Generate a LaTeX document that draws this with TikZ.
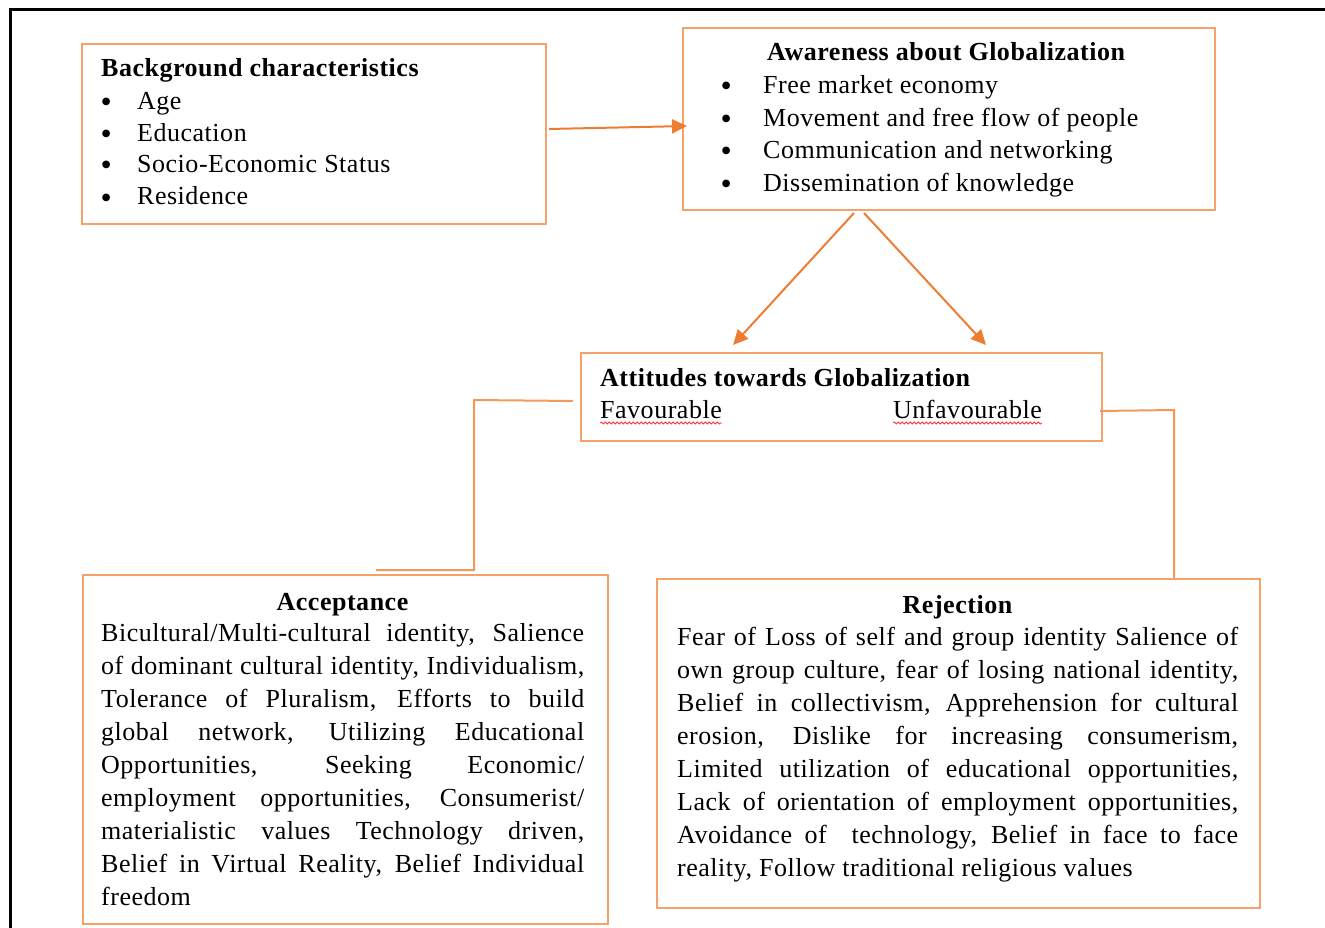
\documentclass[tikz,border=0pt]{standalone}
\usepackage{fontspec}
\setmainfont{Liberation Serif}[LetterSpace=2]
\usetikzlibrary{arrows.meta,decorations.pathmorphing}
\definecolor{boxor}{HTML}{F4A26B}
\definecolor{elbowor}{HTML}{F19A5A}
\definecolor{arrowor}{HTML}{ED7D31}
\newcommand\jline[2]{\hbox to #1{#2}}
\begin{document}
\begin{tikzpicture}[x=1pt,y=-1pt,
  box/.style={draw=boxor,line width=2pt,inner sep=0pt,anchor=north west},
  txt/.style={inner sep=0pt,anchor=base west,font=\fontsize{26}{33}\selectfont},
  bul/.style={inner sep=0pt,anchor=base west,font=\fontsize{32}{33}\selectfont},
  ttl/.style={inner sep=0pt,anchor=base west,font=\fontsize{26}{33}\selectfont\bfseries},
  arr/.style={draw=arrowor,line width=2pt,-{Triangle[length=15pt,width=14pt]}},
  elbow/.style={draw=elbowor,line width=2pt},
  squig/.style={draw=red!80,line width=0.8pt,decorate,decoration={snake,amplitude=1pt,segment length=4pt}}]
\useasboundingbox (0,0) rectangle (1325,928);
% outer frame (cropped)
\draw[line width=3pt] (10,928) -- (10,10) -- (1325,10);
% boxes
\node[box,minimum width=464pt,minimum height=180pt] (b1) at (81,43) {};
\node[box,minimum width=532pt,minimum height=182pt] (b2) at (682,27) {};
\node[box,minimum width=521pt,minimum height=88pt] (b3) at (580,352) {};
\node[box,minimum width=525pt,minimum height=349pt] (b4) at (82,574) {};
\node[box,minimum width=603pt,minimum height=329pt] (b5) at (656,578) {};
% box 1 text
\node[ttl] (t1) at (101,77) {Background characteristics};
\node[bul] (t1b1) at (100.5,113) {•};
\node[txt] (t1i1) at (137,110) {Age};
\node[bul] (t1b2) at (100.5,145) {•};
\node[txt] (t1i2) at (137,142) {Education};
\node[bul] (t1b3) at (100.5,176) {•};
\node[txt] (t1i3) at (137,173) {Socio-Economic Status};
\node[bul] (t1b4) at (100.5,208) {•};
\node[txt] (t1i4) at (137,205) {Residence};
% box 2 text
\node[ttl] (t2) at (767,61) {Awareness about Globalization};
\node[bul] (t2b1) at (720.5,97) {•};
\node[txt] (t2i1) at (763,94) {Free market economy};
\node[bul] (t2b2) at (720.5,129.5) {•};
\node[txt] (t2i2) at (763,126.5) {Movement and free flow of people};
\node[bul] (t2b3) at (720.5,162) {•};
\node[txt] (t2i3) at (763,159) {Communication and networking};
\node[bul] (t2b4) at (720.5,194.5) {•};
\node[txt] (t2i4) at (763,191.5) {Dissemination of knowledge};
% box 3 text
\node[ttl] (t3) at (600,386) {Attitudes towards Globalization};
\node[txt] (fav) at (600,418) {Favourable};
\node[txt] (unfav) at (893,418) {Unfavourable};
\draw[squig] ([yshift=-5pt]fav.base west) -- ([yshift=-5pt]fav.base east);
\draw[squig] ([yshift=-5pt]unfav.base west) -- ([yshift=-5pt]unfav.base east);
% box 4 text
\node[ttl,anchor=base] (t4) at (342.5,610) {Acceptance};
\node[txt] (a1) at (101,641) {\jline{483pt}{Bicultural/Multi-cultural identity, Salience}};
\node[txt] (a2) at (101,674) {\jline{483pt}{of dominant cultural identity, Individualism,}};
\node[txt] (a3) at (101,707) {\jline{483pt}{Tolerance of Pluralism, Efforts to build}};
\node[txt] (a4) at (101,740) {\jline{483pt}{global network, Utilizing Educational}};
\node[txt] (a5) at (101,773) {\jline{483pt}{Opportunities, Seeking Economic/}};
\node[txt] (a6) at (101,806) {\jline{483pt}{employment opportunities, Consumerist/}};
\node[txt] (a7) at (101,839) {\jline{483pt}{materialistic values Technology driven,}};
\node[txt] (a8) at (101,872) {\jline{483pt}{Belief in Virtual Reality, Belief Individual}};
\node[txt] (a9) at (101,905) {freedom};
% box 5 text
\node[ttl,anchor=base] (t5) at (957.5,613) {Rejection};
\node[txt] (r1) at (677,645) {\jline{561pt}{Fear of Loss of self and group identity Salience of}};
\node[txt] (r2) at (677,678.1) {\jline{561pt}{own group culture, fear of losing national identity,}};
\node[txt] (r3) at (677,711.2) {\jline{561pt}{Belief in collectivism, Apprehension for cultural}};
\node[txt] (r4) at (677,744.3) {\jline{561pt}{erosion, Dislike for increasing consumerism,}};
\node[txt] (r5) at (677,777.4) {\jline{561pt}{Limited utilization of educational opportunities,}};
\node[txt] (r6) at (677,810.5) {\jline{561pt}{Lack of orientation of employment opportunities,}};
\node[txt] (r7) at (677,843.6) {\jline{561pt}{Avoidance of\ \ technology, Belief in face to face}};
\node[txt] (r8) at (677,876.7) {reality, Follow traditional religious values};
% arrows
\draw[arr] ([xshift=2pt,yshift=5pt]b1.east) -- ([xshift=5pt,yshift=-7pt]b2.west);
\draw[arr] ([xshift=-95pt,yshift=-2pt]b2.south) -- ([xshift=-108.5pt,yshift=7pt]b3.north);
\draw[arr] ([xshift=-85pt,yshift=-2pt]b2.south) -- ([xshift=144.5pt,yshift=7pt]b3.north);
% elbow connectors
\coordinate (la) at (474,400);
\coordinate (lb) at (474,570);
\coordinate (lc) at (376,570);
\draw[elbow] ([xshift=-7pt,yshift=-4pt]b3.west) -- (la) -- (lb) -- (lc);
\coordinate (ra) at (1174,410);
\draw[elbow] ([xshift=-3pt,yshift=-14pt]b3.east) -- (ra) -- (ra |- b5.north);
\end{tikzpicture}
\end{document}
